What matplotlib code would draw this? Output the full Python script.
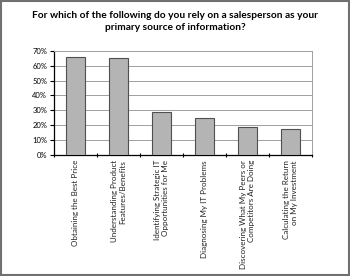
import matplotlib.pyplot as plt
import numpy as np
from matplotlib.patches import Rectangle

categories = [
    'Obtaining the Best Price',
    'Understanding Product\nFeatures/Benefits',
    'Identifying Strategic IT\nOpportunities for Me',
    'Diagnosing My IT Problems',
    'Discovering What My Peers or\nCompetitors Are Doing',
    'Calculating the Return\non My Investment',
]
values = [66, 65, 28.5, 24.5, 18.5, 17.5]
yticks = [0, 10, 20, 30, 40, 50, 60, 70]

plt.rcParams['font.family'] = ['Lato', 'DejaVu Sans']

fig = plt.figure(figsize=(3.5, 2.76), dpi=100)
ax = fig.add_axes([54/350, 1 - 154.5/276, (312-54)/350, (154.5-51)/276])

x = np.arange(len(categories))
ax.bar(x, values, width=0.44, color='#b4b4b4', edgecolor='#505050', linewidth=0.8, zorder=3)

ax.set_xlim(-0.5, len(categories) - 0.5)
ax.set_ylim(0, 70)
ax.set_yticks(yticks)
ax.set_yticklabels([f'{v}%' for v in yticks], fontsize=5.5)
ax.yaxis.grid(True, color='#a0a0a0', linewidth=0.7, zorder=0)

# category ticks sit between bars, labels centered on bars
ax.set_xticks(np.arange(len(categories) + 1) - 0.5)
ax.set_xticklabels([])
ax.set_xticks(x, minor=True)
ax.set_xticklabels(categories, minor=True, rotation=90, fontsize=5.8,
                   ha='center', va='top', multialignment='right', color='#222222')
ax.tick_params(axis='x', which='minor', length=0, pad=4)
ax.tick_params(axis='x', which='major', length=3, width=0.8, direction='inout')
ax.tick_params(axis='y', length=3, width=0.8, pad=2)

for side in ['top', 'right']:
    ax.spines[side].set_color('#a0a0a0')
    ax.spines[side].set_linewidth(0.7)
for side in ['left', 'bottom']:
    ax.spines[side].set_color('black')
    ax.spines[side].set_linewidth(0.9)

fig.text(0.5, 1 - 21.5/276, 'For which of the following do you rely on a salesperson as your\nprimary source of information?',
         ha='center', va='center', fontsize=7.3, fontweight='bold', linespacing=1.55)

fig.patches.append(Rectangle((0.004, 0.005), 0.992, 0.99, transform=fig.transFigure,
                             fill=False, edgecolor='#707070', linewidth=1.5))

fig.savefig('out.png', dpi=100)
